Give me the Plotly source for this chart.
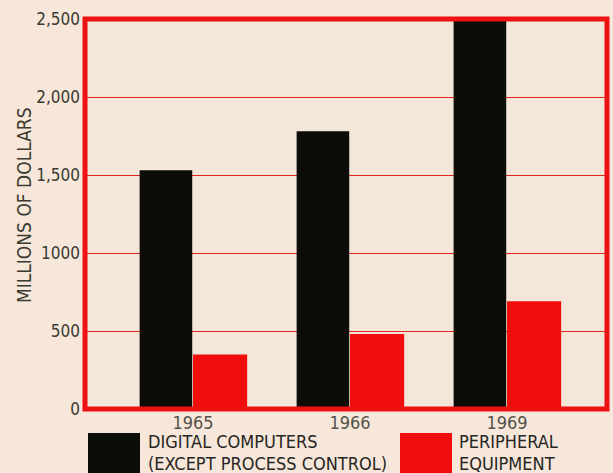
import plotly.graph_objects as go

years = ["1965", "1966", "1969"]
digital = [1530, 1780, 2540]
peripheral = [350, 480, 690]
ytick_vals = [0, 500, 1000, 1500, 2000, 2500]
ytick_text = ["0", "500", "1000", "1,500", "2,000", "2,500"]

FONT = "DejaVu Sans Condensed, DejaVu Sans, sans-serif"
TXT = "#3b3a30"
RED = "#ee1111"
TOP, BOT = 19, 409
PW, PH = 522, BOT - TOP

fig = go.Figure()
fig.add_trace(go.Bar(x=[0, 1, 2], y=digital, name="DIGITAL COMPUTERS",
                     marker=dict(color="#0c0c08", line=dict(width=0)),
                     offset=-0.34, width=0.335, cliponaxis=False))
fig.add_trace(go.Bar(x=[0, 1, 2], y=peripheral, name="PERIPHERAL EQUIPMENT",
                     marker=dict(color="#f20d0d", line=dict(width=0)),
                     offset=0.0, width=0.345, cliponaxis=False))

fig.update_layout(
    width=613, height=473,
    margin=dict(l=85, r=6, t=TOP, b=473 - BOT),
    paper_bgcolor="#f6e7da",
    plot_bgcolor="#f4e6d8",
    showlegend=False,
    font=dict(family=FONT, color=TXT, size=15),
    xaxis=dict(range=[-0.688, 2.637], tickvals=[0, 1, 2], ticktext=years,
               showgrid=False, zeroline=False, showline=False, ticks="",
               automargin=False, ticklabelstandoff=1,
               tickfont=dict(size=18, color="#55524a", family=FONT)),
    yaxis=dict(range=[0, 2500], tickvals=ytick_vals, ticktext=ytick_text,
               showgrid=True, gridcolor="#e3241e", gridwidth=1,
               zeroline=False, showline=False, ticks="",
               automargin=False, ticklabelstandoff=4,
               tickfont=dict(size=17, color=TXT, family=FONT)),
)

# y title
fig.add_annotation(xref="paper", yref="paper", x=(24 - 85) / PW, y=(BOT - 205) / PH,
                   xanchor="center", yanchor="middle", textangle=-90, showarrow=False,
                   text="MILLIONS OF DOLLARS",
                   font=dict(size=19, color=TXT, family=FONT))

# frame
fig.add_shape(type="rect", xref="paper", yref="paper", x0=0, x1=1, y0=0, y1=1,
              line=dict(color=RED, width=5), fillcolor="rgba(0,0,0,0)", layer="above")

# legend swatches and texts
fig.add_shape(type="rect", xref="paper", yref="paper",
              x0=3 / PW, x1=55 / PW, y0=(BOT - 473) / PH, y1=(BOT - 433) / PH,
              fillcolor="#0c0c08", line=dict(width=0))
fig.add_shape(type="rect", xref="paper", yref="paper",
              x0=315 / PW, x1=367 / PW, y0=(BOT - 473) / PH, y1=(BOT - 433) / PH,
              fillcolor="#f20d0d", line=dict(width=0))
legend_lines = [
    (147, 442, "DIGITAL COMPUTERS"),
    (147, 463, "(EXCEPT PROCESS CONTROL)"),
    (458, 442, "PERIPHERAL"),
    (458, 463, "EQUIPMENT"),
]
for px, py, t in legend_lines:
    fig.add_annotation(xref="paper", yref="paper", x=(px - 85) / PW, y=(BOT - py) / PH,
                       xanchor="left", yanchor="middle", showarrow=False, borderpad=0,
                       text=t, font=dict(size=18, color="#26251f", family=FONT))

fig.write_html("out.html", config={"displayModeBar": False},
               post_script="document.body.style.margin='0px';document.body.style.overflow='hidden';")
